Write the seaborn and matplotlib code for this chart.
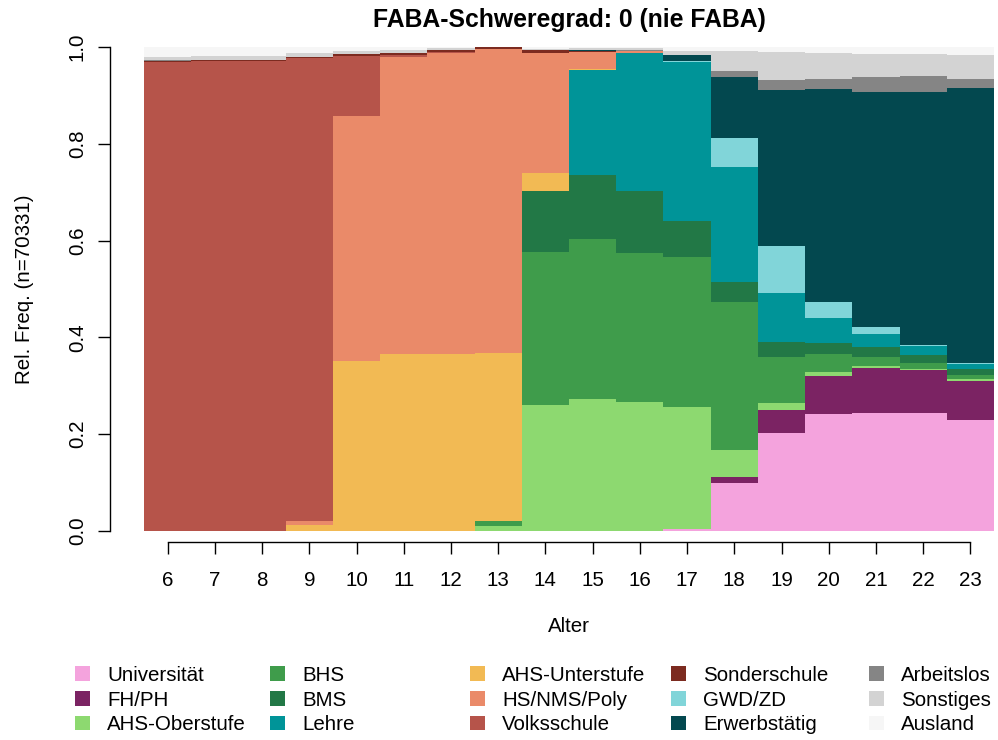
import numpy as np
import pandas as pd
import matplotlib
matplotlib.use("Agg")
import matplotlib.pyplot as plt
from matplotlib.patches import Patch
import seaborn as sns

# Alter 6..23, relative Häufigkeiten je Kategorie
alter = [6, 7, 8, 9, 10, 11, 12, 13, 14, 15, 16, 17, 18, 19, 20, 21, 22, 23]

universitaet = [0, 0, 0, 0, 0, 0, 0, 0, 0, 0, 0, 0.004, 0.100, 0.202, 0.241, 0.243, 0.243, 0.229]
fh_ph = [0, 0, 0, 0, 0, 0, 0, 0, 0, 0, 0, 0, 0.012, 0.047, 0.080, 0.094, 0.090, 0.081]
ahs_oberstufe = [0, 0, 0, 0, 0, 0, 0, 0.011, 0.260, 0.272, 0.266, 0.253, 0.055, 0.015, 0.007, 0.004, 0.002, 0.004]
bhs = [0, 0, 0, 0, 0, 0, 0, 0.010, 0.317, 0.331, 0.309, 0.310, 0.307, 0.096, 0.037, 0.019, 0.013, 0.008]
bms = [0, 0, 0, 0, 0, 0, 0, 0, 0.125, 0.132, 0.128, 0.073, 0.041, 0.031, 0.023, 0.020, 0.016, 0.013]
lehre = [0, 0, 0, 0, 0, 0, 0, 0, 0, 0.217, 0.285, 0.328, 0.238, 0.100, 0.053, 0.028, 0.018, 0.011]
ahs_unterstufe = [0, 0, 0, 0.012, 0.351, 0.366, 0.365, 0.347, 0.038, 0.002, 0, 0, 0, 0, 0, 0, 0, 0]
hs_nms_poly = [0, 0, 0, 0.009, 0.506, 0.614, 0.623, 0.627, 0.248, 0.036, 0.003, 0, 0, 0, 0, 0, 0, 0]
volksschule = [0.968, 0.972, 0.972, 0.956, 0.124, 0.003, 0.001, 0, 0, 0, 0, 0, 0, 0, 0, 0, 0, 0]
sonderschule = [0.003, 0.002, 0.002, 0.003, 0.004, 0.005, 0.005, 0.004, 0.005, 0.002, 0, 0, 0, 0, 0, 0, 0, 0]
gwd_zd = [0, 0, 0, 0, 0, 0, 0, 0, 0, 0, 0, 0.003, 0.060, 0.098, 0.033, 0.013, 0.003, 0.002]
erwerbstaetig = [0, 0, 0, 0, 0, 0, 0, 0, 0, 0.001, 0.001, 0.012, 0.126, 0.322, 0.439, 0.485, 0.523, 0.567]
arbeitslos = [0.002, 0, 0, 0, 0, 0, 0, 0, 0, 0, 0.001, 0.001, 0.012, 0.021, 0.021, 0.031, 0.032, 0.018]
sonstiges = [0.006, 0.008, 0.008, 0.007, 0.006, 0.005, 0.003, 0, 0.003, 0.004, 0.005, 0.007, 0.041, 0.058, 0.054, 0.049, 0.045, 0.050]
ausland = [0.021, 0.018, 0.018, 0.013, 0.009, 0.007, 0.003, 0.001, 0.004, 0.003, 0.002, 0.009, 0.008, 0.010, 0.012, 0.014, 0.015, 0.017]

kategorien = [
    "Universität", "FH/PH", "AHS-Oberstufe", "BHS", "BMS", "Lehre",
    "AHS-Unterstufe", "HS/NMS/Poly", "Volksschule", "Sonderschule",
    "GWD/ZD", "Erwerbstätig", "Arbeitslos", "Sonstiges", "Ausland",
]
werte = [
    universitaet, fh_ph, ahs_oberstufe, bhs, bms, lehre,
    ahs_unterstufe, hs_nms_poly, volksschule, sonderschule,
    gwd_zd, erwerbstaetig, arbeitslos, sonstiges, ausland,
]
farben = [
    "#F4A3DD", "#7B2363", "#8DD970", "#3F9C4B", "#227846", "#009498",
    "#F2BA54", "#EA8A69", "#B6544A", "#7C2B20",
    "#81D5D9", "#03484F", "#858585", "#D3D3D3", "#F6F6F6",
]

df = pd.DataFrame(
    [(a, k, v) for k, vals in zip(kategorien, werte) for a, v in zip(alter, vals)],
    columns=["Alter", "Kategorie", "Anteil"],
)

sns.set_style("white")
plt.rcParams["font.family"] = ["Liberation Sans", "DejaVu Sans"]
plt.rcParams["text.color"] = "black"
plt.rcParams["axes.labelcolor"] = "black"
plt.rcParams["xtick.color"] = "black"
plt.rcParams["ytick.color"] = "black"
FS = 14.8

W, H = 998, 740
fig = plt.figure(figsize=(W / 100, H / 100), dpi=100)
ax = fig.add_axes([144 / W, 1 - 531 / H, 850 / W, 484 / H])

# seaborn stacks the last hue level at the bottom -> reverse order
sns.histplot(
    data=df, x="Alter", weights="Anteil", hue="Kategorie",
    hue_order=kategorien[::-1], palette=dict(zip(kategorien, farben)),
    multiple="stack", discrete=True, shrink=1, linewidth=0, alpha=1,
    legend=False, ax=ax,
)

ax.set_xlim(5.5, 23.5)
ax.set_ylim(0, 1)
for s in ["top", "right"]:
    ax.spines[s].set_visible(False)
ax.spines["left"].set_position(("outward", 24.5))
ax.spines["bottom"].set_position(("outward", 7.7))
ax.spines["left"].set_bounds(0, 1)
ax.spines["bottom"].set_bounds(6, 23)
for s in ["left", "bottom"]:
    ax.spines[s].set_color("black")
    ax.spines[s].set_linewidth(1)

ax.set_xticks(alter)
ax.set_yticks([0, 0.2, 0.4, 0.6, 0.8, 1.0])
ax.set_yticklabels(["0.0", "0.2", "0.4", "0.6", "0.8", "1.0"])
ax.tick_params(axis="both", direction="out", length=8.6, width=1, colors="black",
               labelsize=FS, bottom=True, left=True)
ax.tick_params(axis="x", pad=12.5)
ax.tick_params(axis="y", pad=8, labelrotation=90)
for lab in ax.get_yticklabels():
    lab.set_va("center")

ax.set_xlabel("Alter", fontsize=FS)
ax.xaxis.set_label_coords(0.5, (531 - 626) / 484)
ax.xaxis.label.set_va("center")
ax.set_ylabel("Rel. Freq. (n=70331)", fontsize=FS)
ax.yaxis.set_label_coords((25 - 144) / 850, 0.5)
ax.yaxis.label.set_va("center")

ax.set_title("FABA-Schweregrad: 0 (nie FABA)", fontsize=17.8, fontweight="bold",
             y=(531 - 20) / 484, va="center", pad=0)

# Legende: 5 Spalten a 3 Eintraege
spalten_x = [75, 270, 470, 671, 869]
for i, x0 in enumerate(spalten_x):
    handles = [Patch(facecolor=farben[j], edgecolor="none") for j in range(3 * i, 3 * i + 3)]
    fig.legend(
        handles, kategorien[3 * i:3 * i + 3], loc="upper left",
        bbox_to_anchor=(x0 / W, 1 - 666 / H), frameon=False, fontsize=FS,
        handlelength=0.72, handleheight=0.72, handletextpad=0.85,
        labelspacing=0.27, borderpad=0, borderaxespad=0,
    )

fig.savefig("out.png", dpi=100)
